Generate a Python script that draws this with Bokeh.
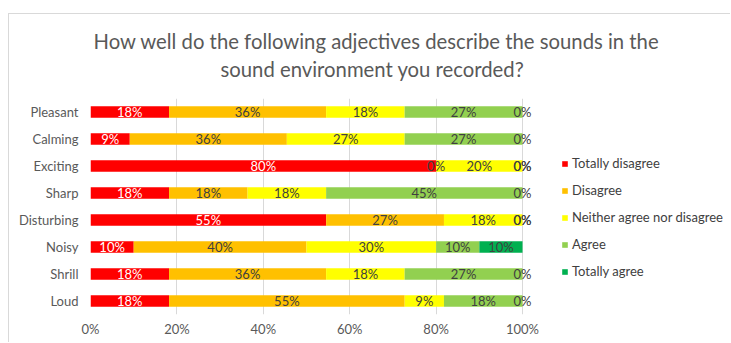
from bokeh.plotting import figure
from bokeh.models import (FactorRange, Range1d, FixedTicker, PrintfTickFormatter,
                          ColumnDataSource, Legend, LegendItem, Title)
from bokeh.core.properties import value
from bokeh.embed import file_html
from bokeh.resources import INLINE

categories = ["Pleasant", "Calming", "Exciting", "Sharp", "Disturbing", "Noisy", "Shrill", "Loud"]
series = ["Totally disagree", "Disagree", "Neither agree nor disagree", "Agree", "Totally agree"]
totally_disagree = [18.18, 9.09, 80.0, 18.18, 54.55, 10.0, 18.18, 18.18]
disagree = [36.36, 36.36, 0.0, 18.18, 27.27, 40.0, 36.36, 54.55]
neither = [18.18, 27.27, 20.0, 18.18, 18.18, 30.0, 18.18, 9.09]
agree = [27.27, 27.27, 0.0, 45.45, 0.0, 10.0, 27.27, 18.18]
totally_agree = [0.0, 0.0, 0.0, 0.0, 0.0, 10.0, 0.0, 0.0]
x_ticks = [0, 20, 40, 60, 80, 100]
colors = ["#ff0000", "#ffc000", "#ffff00", "#92d050", "#00b050"]
label_colors = ["#ffffff", "#404040", "#404040", "#404040", "#404040"]
title_line1 = "How well do the following adjectives describe the sounds in the"
title_line2 = "sound environment  you recorded?"

FONT = "Lato"
values = [totally_disagree, disagree, neither, agree, totally_agree]

# frame spans from the 0% line to the right edge; 100% sits at 432 px of 641
x_end = 100 * 641 / 432

p = figure(width=722, height=329, output_backend="svg", toolbar_location=None,
           y_range=FactorRange(factors=list(reversed(categories)), range_padding=0),
           x_range=Range1d(0, x_end),
           min_border_left=81, min_border_right=0, min_border_top=84, min_border_bottom=29)
p.styles = {"margin-left": "8px", "margin-top": "13px",
            "border-left": "1px solid #d9d9d9", "border-top": "1px solid #d9d9d9"}
p.outline_line_color = None
p.background_fill_color = "white"

# spacer between the title and the plot area
p.add_layout(Title(text=" ", standoff=14, text_font_size="1px"), "above")
for txt, so, off in [(title_line2, 2, 130), (title_line1, 2, 3)]:
    t = Title(text=txt, align="left", offset=off, text_font=FONT,
              text_font_size="20.3px", text_color="#595959", text_font_style="normal",
              standoff=so)
    p.add_layout(t, "above")

left = [0.0] * len(categories)
renderers = []
label_sources = []
for i, (name, vals) in enumerate(zip(series, values)):
    right = [l + v for l, v in zip(left, vals)]
    src = ColumnDataSource(dict(y=categories, left=left, right=right,
                                mid=[(l + r) / 2 for l, r in zip(left, right)],
                                lab=["%d%%" % int(v + 0.5) for v in vals]))
    r = p.hbar(y="y", left="left", right="right", height=0.42, source=src,
               fill_color=colors[i], line_color=None)
    renderers.append(r)
    label_sources.append(src)
    left = right

for i, src in enumerate(label_sources):
    p.text(x="mid", y="y", text="lab", source=src, text_align="center",
           text_baseline="middle", text_font=value(FONT), text_font_size="13px",
           text_color=label_colors[i])

legend = Legend(items=[LegendItem(label=n, renderers=[r]) for n, r in zip(series, renderers)],
                location=(471, 33), orientation="vertical",
                glyph_width=7, glyph_height=7, label_standoff=4, spacing=7,
                label_height=20, padding=0, margin=0,
                border_line_color=None, background_fill_alpha=0,
                label_text_font=FONT, label_text_font_size="13px", label_text_color="#404040")
p.add_layout(legend)

p.xaxis.ticker = FixedTicker(ticks=x_ticks)
p.xaxis.formatter = PrintfTickFormatter(format="%d%%")
p.xaxis.axis_line_color = None
p.xaxis.major_tick_line_color = None
p.xaxis.minor_tick_line_color = None
p.xaxis.major_label_text_font = FONT
p.xaxis.major_label_text_font_size = "13px"
p.xaxis.major_label_text_color = "#595959"
p.xaxis.major_label_standoff = 0

p.yaxis.axis_line_color = None
p.yaxis.major_tick_line_color = None
p.yaxis.minor_tick_line_color = None
p.yaxis.major_label_text_font = FONT
p.yaxis.major_label_text_font_size = "13px"
p.yaxis.major_label_text_color = "#595959"
p.yaxis.major_label_standoff = 6

p.xgrid.ticker = FixedTicker(ticks=x_ticks)
p.xgrid.grid_line_color = "#d9d9d9"
p.ygrid.grid_line_color = None

open("out.html", "w").write(file_html(p, INLINE))
